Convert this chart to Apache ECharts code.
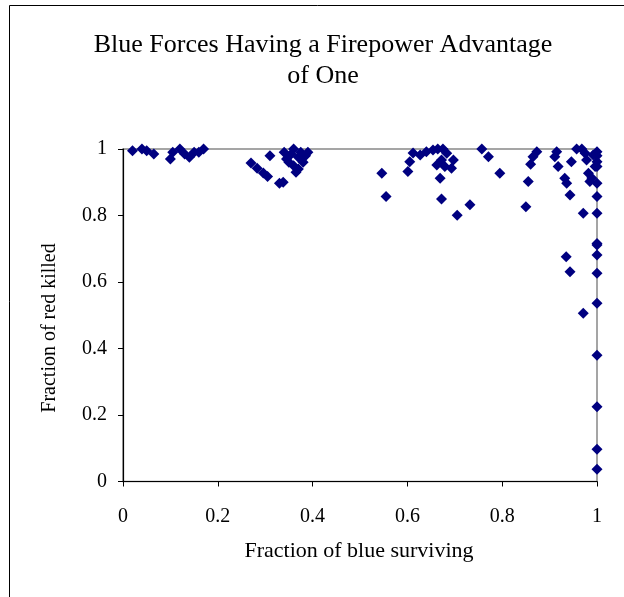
<!DOCTYPE html>
<html>
<head>
<meta charset="utf-8">
<script src="https://cdn.jsdelivr.net/npm/echarts@6/dist/echarts.min.js"></script>
<style>html,body{margin:0;padding:0;background:#fff}#c{width:624px;height:597px}</style>
</head>
<body>
<div id="c"></div>
<script>
var titleText = 'Blue Forces Having a Firepower Advantage\nof One';
var xAxisTitle = 'Fraction of blue surviving';
var yAxisTitle = 'Fraction of red killed';
var xTicks = [0, 0.2, 0.4, 0.6, 0.8, 1];
var yTicks = [0, 0.2, 0.4, 0.6, 0.8, 1];

var blueSurviving = [
  0.02,0.04,0.05,0.065,0.10,0.105,0.12,0.13,0.14,0.15,0.16,0.17,
  0.27,0.283,0.296,0.305,0.31,0.33,0.338,0.34,0.345,0.35,0.355,0.36,0.365,0.37,0.375,0.38,0.385,0.39,0.36,0.37,
  0.546,0.555,0.601,0.605,0.612,0.627,0.64,0.654,0.664,0.675,0.683,0.697,0.662,0.672,0.679,0.669,0.672,0.693,0.705,0.732,0.757,0.771,0.795,
  0.85,0.855,0.86,0.865,0.873,0.911,0.915,0.918,0.932,0.936,0.943,0.946,0.957,0.968,0.975,0.978,0.982,0.985,0.971,0.992,0.996,0.989,
  1.0,1.0,1.0,1.0,1.0,1.0,1.0,1.0,1.0,1.0,1.0,1.0,1.0,1.0,1.0,1.0,
  0.935,0.943,0.971
];
var redKilled = [
  0.995,1.0,0.995,0.985,0.97,0.99,1.0,0.985,0.975,0.99,0.99,1.0,
  0.958,0.942,0.928,0.917,0.98,0.897,0.90,0.99,0.97,0.96,0.985,0.95,0.93,0.975,0.99,0.96,0.98,0.99,1.0,0.94,
  0.927,0.857,0.932,0.962,0.988,0.982,0.992,0.997,1.0,1.0,0.987,0.967,0.952,0.967,0.947,0.912,0.85,0.942,0.801,0.832,1.0,0.977,0.927,
  0.826,0.902,0.954,0.977,0.992,0.977,0.992,0.947,0.912,0.897,0.862,0.962,1.0,1.0,0.987,0.967,0.927,0.902,0.807,0.982,0.947,0.913,
  0.992,0.962,0.947,0.897,0.857,0.807,0.716,0.711,0.681,0.626,0.536,0.38,0.225,0.097,0.037,0.98,
  0.676,0.631,0.506
];

var pts = blueSurviving.map(function (x, i) { return [x, redKilled[i]]; });
var serif = '"Liberation Serif","Times New Roman",serif';
function fmt(list) {
  return function (v) { var r = Math.round(v * 10) / 10; return list.indexOf(r) >= 0 ? String(r) : ''; };
}

var chart = echarts.init(document.getElementById('c'));
chart.setOption({
  backgroundColor: '#fff',
  animation: false,
  title: {
    text: titleText, left: 323, top: 30, textAlign: 'center', padding: 0,
    textStyle: { fontFamily: serif, fontWeight: 'normal', fontSize: 26, color: '#000', lineHeight: 31 }
  },
  grid: { left: 123, top: 149, right: 27, bottom: 115.5, show: true, borderColor: '#888', borderWidth: 1.5, backgroundColor: 'transparent' },
  xAxis: {
    type: 'value', min: 0, max: 1, interval: 0.2,
    axisLine: { show: true, onZero: false, lineStyle: { color: '#000', width: 1.2 } },
    axisTick: { show: true, length: 5, lineStyle: { color: '#000' } },
    splitLine: { show: false },
    axisLabel: { margin: 25, fontFamily: serif, fontSize: 20, color: '#000', formatter: fmt(xTicks) }
  },
  yAxis: {
    type: 'value', min: 0, max: 1, interval: 0.2,
    axisLine: { show: true, onZero: false, lineStyle: { color: '#000', width: 1.2 } },
    axisTick: { show: true, length: 5, lineStyle: { color: '#000' } },
    splitLine: { show: false },
    axisLabel: { margin: 16, fontFamily: serif, fontSize: 20, color: '#000', formatter: fmt(yTicks) }
  },
  graphic: [
    { type: 'rect', shape: { x: 9.5, y: 5.5, width: 700, height: 700 }, style: { fill: 'none', stroke: '#000', lineWidth: 1 }, silent: true, z: -1 },
    { type: 'text', x: 50, y: 328, rotation: Math.PI / 2, style: { text: yAxisTitle, font: '20px ' + serif, fill: '#000', textAlign: 'center', textVerticalAlign: 'middle' } },
    { type: 'text', x: 359, y: 551, style: { text: xAxisTitle, font: '22px ' + serif, fill: '#000', textAlign: 'center', textVerticalAlign: 'middle' } }
  ],
  series: [{
    type: 'scatter', data: pts, symbol: 'diamond', symbolSize: 11,
    itemStyle: { color: '#000080', opacity: 1 }, clip: false
  }]
});
</script>
</body>
</html>
